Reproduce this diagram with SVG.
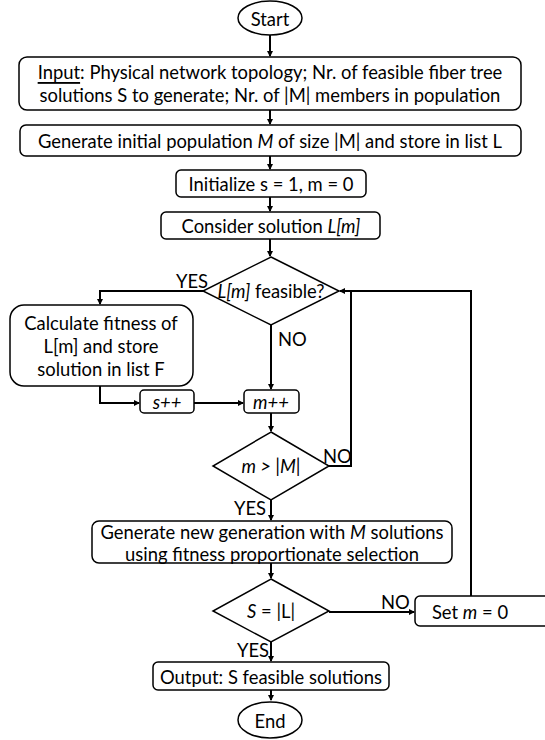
<svg xmlns="http://www.w3.org/2000/svg" width="545" height="740" viewBox="0 0 545 740">
<style>
  .box{fill:#fff;stroke:#000;stroke-width:1.5}
  .t{font-family:Lato,"Liberation Sans",sans-serif;font-size:18.4px;fill:#000;text-anchor:middle;dominant-baseline:central}
  .l{font-family:Lato,"Liberation Sans",sans-serif;font-size:18.4px;fill:#000;dominant-baseline:central}
  .c{fill:none;stroke:#000;stroke-width:2}
  .i{font-style:italic}
</style>
<defs>
  <marker id="ah" markerWidth="6" markerHeight="6" refX="5" refY="3" orient="auto" markerUnits="userSpaceOnUse">
    <path d="M0,0 L6,3 L0,6 Z" fill="#000"/>
  </marker>
</defs>
<g id="connectors">
  <path class="c" d="M270,35 V56" marker-end="url(#ah)"/>
  <path class="c" d="M270,110 V124" marker-end="url(#ah)"/>
  <path class="c" d="M270,156 V169" marker-end="url(#ah)"/>
  <path class="c" d="M270,197 V211" marker-end="url(#ah)"/>
  <path class="c" d="M270,239 V256" marker-end="url(#ah)"/>
  <path class="c" d="M203,291 H100 V304" marker-end="url(#ah)"/>
  <path class="c" d="M271,325 V389" marker-end="url(#ah)"/>
  <path class="c" d="M100,386 V403 H139" marker-end="url(#ah)"/>
  <path class="c" d="M194,403 H243" marker-end="url(#ah)"/>
  <path class="c" d="M271,413 V431" marker-end="url(#ah)"/>
  <path class="c" d="M329,466 H351 V291 H340" marker-end="url(#ah)"/>
  <path class="c" d="M271,500 V520" marker-end="url(#ah)"/>
  <path class="c" d="M271,563 V578" marker-end="url(#ah)"/>
  <path class="c" d="M329,612 H414" marker-end="url(#ah)"/>
  <path class="c" d="M471,596 V291 H351"/>
  <path class="c" d="M271,642 V661" marker-end="url(#ah)"/>
  <path class="c" d="M271,690 V700" marker-end="url(#ah)"/>
  <text class="l" x="176" y="281">YES</text>
  <text class="l" x="278" y="339">NO</text>
  <text class="l" x="323" y="456">NO</text>
  <text class="l" x="234" y="508">YES</text>
  <text class="l" x="381" y="602">NO</text>
  <text class="l" x="237" y="650">YES</text>
</g>
<g id="start">
  <ellipse class="box" cx="270" cy="18" rx="32" ry="17"/>
  <text class="t" x="270" y="19">Start</text>
</g>
<g id="input">
  <rect class="box" x="19" y="57" width="502" height="53" rx="8"/>
  <text class="t" x="270" y="72"><tspan text-decoration="underline">Input</tspan>: Physical network topology; Nr. of feasible fiber tree</text>
  <text class="t" x="270" y="95">solutions S to generate; Nr. of |M| members in population</text>
</g>
<g id="initpop">
  <rect class="box" x="20" y="125" width="501" height="31" rx="6"/>
  <text class="t" x="270" y="141">Generate initial population <tspan class="i">M</tspan> of size |M| and store in list L</text>
</g>
<g id="init">
  <rect class="box" x="176" y="170" width="190" height="27" rx="5"/>
  <text class="t" x="271" y="184">Initialize s = 1, m = 0</text>
</g>
<g id="consider">
  <rect class="box" x="161" y="212" width="219" height="27" rx="5"/>
  <text class="t" x="271" y="226">Consider solution <tspan class="i">L[m]</tspan></text>
</g>
<g id="feasible">
  <polygon class="box" points="271,257 339,291 271,325 203,291"/>
  <text class="t" x="271" y="291"><tspan class="i">L[m]</tspan> feasible?</text>
</g>
<g id="fitness">
  <rect class="box" x="10" y="305" width="183" height="81" rx="14"/>
  <text class="t" x="101" y="323">Calculate fitness of</text>
  <text class="t" x="101" y="346">L[m] and store</text>
  <text class="t" x="101" y="369">solution in list F</text>
</g>
<g id="sinc">
  <rect class="box" x="140" y="390" width="54" height="23" rx="4"/>
  <text class="t i" x="167" y="402">s++</text>
</g>
<g id="minc">
  <rect class="box" x="244" y="390" width="55" height="23" rx="4"/>
  <text class="t i" x="271" y="402">m++</text>
</g>
<g id="mcheck">
  <polygon class="box" points="271,432 329,466 271,500 213,466"/>
  <text class="t i" x="271" y="466">m &gt; |M|</text>
</g>
<g id="newgen">
  <rect class="box" x="92" y="521" width="360" height="42" rx="7"/>
  <text class="t" x="272" y="532">Generate new generation with <tspan class="i">M</tspan> solutions</text>
  <text class="t" x="272" y="554">using fitness proportionate selection</text>
</g>
<g id="scheck">
  <polygon class="box" points="271,579 329,611 271,642 213,611"/>
  <text class="t" x="271" y="611"><tspan class="i">S</tspan> = |L|</text>
</g>
<g id="setm">
  <rect class="box" x="415" y="596" width="140" height="30" rx="5"/>
  <text class="t" x="470" y="612">Set <tspan class="i">m</tspan> = 0</text>
</g>
<g id="output">
  <rect class="box" x="153" y="662" width="236" height="28" rx="5"/>
  <text class="t" x="271" y="677">Output: S feasible solutions</text>
</g>
<g id="end">
  <ellipse class="box" cx="270" cy="720" rx="32" ry="18"/>
  <text class="t" x="270" y="721">End</text>
</g>
</svg>
